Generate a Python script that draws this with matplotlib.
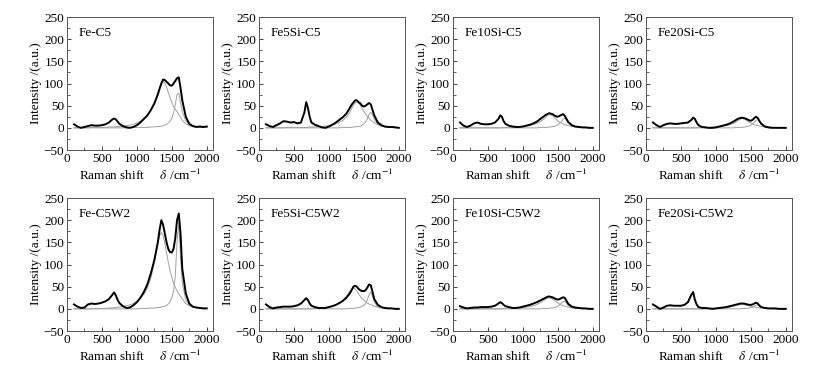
import matplotlib
matplotlib.use('Agg')
import matplotlib.pyplot as plt
from matplotlib.ticker import MultipleLocator

plt.rcParams['font.family'] = ['Liberation Serif', 'DejaVu Serif']
plt.rcParams['mathtext.fontset'] = 'stix'
plt.rcParams['font.size'] = 9

# Raman shift grid (cm^-1)
shift = [100, 150, 200, 250, 300, 350, 400, 450, 500, 550, 600, 650,
         675, 700, 725, 750,
         800, 850, 900, 950, 1000, 1050, 1100, 1150, 1200, 1250, 1300,
         1325, 1350, 1375, 1400, 1425, 1450, 1475, 1500, 1525, 1550, 1575, 1600, 1625,
         1650, 1700, 1750, 1800, 1850, 1900, 1950, 2000]

titles = ['Fe-C5', 'Fe5Si-C5', 'Fe10Si-C5', 'Fe20Si-C5',
          'Fe-C5W2', 'Fe5Si-C5W2', 'Fe10Si-C5W2', 'Fe20Si-C5W2']

# measured spectra, D band fit, G band fit
fe_c5 = [8, 3, 0, 2, 4, 6, 5, 5, 6, 8, 12, 19,
         21, 19, 14, 9,
         4, 1, 0, 2, 6, 12, 20, 28, 40, 55, 75,
         88, 100, 109, 108, 104, 100, 96, 95, 100, 106, 112, 114, 90,
         62, 25, 9, 4, 2, 3, 2, 3]
fe_c5_d = [0, 0, 0, 0, 0, 1, 1, 1, 1, 1, 2, 2,
           2, 3, 3, 3,
           4, 5, 6, 8, 11, 15, 21, 28, 40, 57, 80,
           91, 101, 105, 101, 92, 80, 68, 57, 48, 42, 37, 30, 24,
           17, 9, 5, 3, 2, 1, 1, 1]
fe_c5_g = [0, 0, 0, 0, 0, 0, 0, 0, 0, 0, 0, 0,
           0, 0, 0, 0,
           0, 0, 0, 1, 1, 1, 1, 1, 2, 2, 3,
           3, 4, 5, 6, 8, 11, 15, 22, 33, 52, 75, 78, 57,
           36, 16, 8, 5, 3, 2, 2, 1]

fe5si_c5 = [8, 4, 2, 6, 10, 15, 14, 12, 13, 10, 12, 35,
            58, 45, 25, 12,
            7, 4, 1, 0, 3, 7, 12, 18, 24, 32, 45,
            52, 57, 62, 62, 58, 55, 50, 48, 50, 53, 56, 53, 40,
            28, 12, 6, 3, 2, 2, 1, 0]
fe5si_c5_d = [0, 0, 0, 0, 0, 0, 1, 1, 1, 1, 1, 1,
              1, 1, 2, 2,
              2, 3, 3, 4, 5, 7, 9, 12, 17, 24, 35,
              43, 51, 56, 58, 56, 51, 44, 37, 31, 26, 21, 17, 14,
              11, 7, 4, 3, 2, 1, 1, 1]
fe5si_c5_g = [0, 0, 0, 0, 0, 0, 0, 0, 0, 0, 0, 0,
              0, 0, 0, 0,
              0, 0, 0, 0, 0, 0, 0, 0, 1, 1, 1,
              1, 2, 2, 3, 3, 4, 6, 9, 13, 20, 30, 35, 29,
              19, 8, 4, 2, 1, 1, 1, 0]

fe10si_c5 = [12, 5, 2, 5, 10, 12, 9, 8, 8, 9, 12, 20,
             28, 25, 15, 9,
             5, 3, 2, 2, 3, 5, 7, 10, 14, 20, 26,
             29, 31, 33, 32, 31, 28, 26, 25, 27, 29, 31, 27, 20,
             13, 6, 3, 2, 1, 1, 0, 0]
fe10si_c5_d = [0, 0, 0, 0, 0, 0, 0, 0, 0, 0, 0, 0,
               0, 0, 1, 1,
               1, 1, 2, 2, 3, 4, 5, 7, 10, 14, 20,
               24, 28, 30, 29, 27, 23, 20, 16, 13, 11, 9, 7, 6,
               5, 3, 2, 1, 1, 1, 0, 0]
fe10si_c5_g = [0, 0, 0, 0, 0, 0, 0, 0, 0, 0, 0, 0,
               0, 0, 0, 0,
               0, 0, 0, 0, 0, 0, 0, 0, 0, 1, 1,
               1, 1, 2, 2, 3, 3, 5, 7, 10, 14, 19, 22, 18,
               12, 5, 2, 1, 1, 0, 0, 0]

fe20si_c5 = [12, 6, 2, 6, 9, 10, 9, 9, 10, 11, 12, 18,
             23, 20, 12, 6,
             2, 1, 0, 0, 1, 3, 5, 7, 10, 14, 19,
             21, 22, 23, 22, 21, 19, 17, 16, 18, 22, 25, 22, 15,
             9, 3, 1, 0, 0, 0, 0, 0]
fe20si_c5_d = [0, 0, 0, 0, 0, 0, 0, 0, 0, 0, 0, 0,
               0, 0, 0, 1,
               1, 1, 1, 2, 2, 3, 4, 5, 7, 10, 14,
               17, 20, 21, 20, 18, 16, 13, 11, 9, 7, 6, 5, 4,
               3, 2, 1, 1, 1, 0, 0, 0]
fe20si_c5_g = [0, 0, 0, 0, 0, 0, 0, 0, 0, 0, 0, 0,
               0, 0, 0, 0,
               0, 0, 0, 0, 0, 0, 0, 0, 0, 0, 1,
               1, 1, 1, 2, 2, 3, 4, 6, 9, 13, 17, 18, 14,
               9, 4, 2, 1, 1, 0, 0, 0]

fe_c5w2 = [10, 5, 2, 3, 10, 12, 11, 12, 14, 17, 22, 32,
           37, 30, 20, 13,
           6, 2, 3, 8, 15, 25, 38, 55, 80, 110, 150,
           178, 200, 190, 170, 150, 135, 128, 127, 135, 160, 200, 215, 170,
           90, 35, 12, 5, 3, 2, 1, 1]
fe_c5w2_d = [0, 0, 0, 0, 0, 0, 1, 1, 1, 1, 2, 2,
             3, 3, 4, 4,
             5, 7, 9, 12, 17, 24, 33, 47, 70, 104, 147,
             165, 172, 165, 148, 126, 105, 86, 71, 58, 48, 41, 34, 28,
             22, 12, 7, 4, 3, 2, 2, 1]
fe_c5w2_g = [0, 0, 0, 0, 0, 0, 0, 0, 0, 0, 0, 0,
             0, 0, 0, 0,
             0, 0, 0, 0, 0, 1, 1, 1, 2, 2, 3,
             3, 4, 5, 6, 8, 11, 16, 24, 40, 75, 151, 196, 115,
             58, 20, 9, 5, 3, 2, 1, 1]

fe5si_c5w2 = [10, 4, 1, 3, 4, 5, 5, 5, 6, 8, 12, 20,
              24, 20, 12, 7,
              4, 2, 2, 2, 4, 6, 9, 13, 18, 25, 35,
              42, 50, 52, 50, 45, 42, 40, 40, 42, 48, 55, 53, 38,
              22, 9, 4, 2, 1, 1, 0, 0]
fe5si_c5w2_d = [0, 0, 0, 0, 0, 0, 0, 0, 0, 0, 0, 0,
                0, 0, 1, 1,
                1, 2, 2, 3, 5, 7, 9, 13, 19, 28, 40,
                45, 47, 45, 40, 34, 28, 23, 19, 16, 13, 11, 9, 8,
                6, 4, 2, 1, 1, 1, 0, 0]
fe5si_c5w2_g = [0, 0, 0, 0, 0, 0, 0, 0, 0, 0, 0, 0,
                0, 0, 0, 0,
                0, 0, 0, 0, 0, 0, 0, 0, 0, 0, 1,
                1, 1, 2, 2, 3, 4, 6, 8, 12, 20, 32, 38, 28,
                15, 5, 3, 2, 1, 1, 0, 0]

fe10si_c5w2 = [6, 3, 1, 2, 3, 3, 4, 4, 4, 5, 7, 12,
               15, 13, 9, 6,
               4, 2, 2, 3, 5, 7, 9, 12, 15, 19, 23,
               25, 27, 28, 27, 26, 24, 22, 21, 22, 24, 26, 25, 18,
               11, 5, 3, 2, 1, 1, 0, 0]
fe10si_c5w2_d = [0, 0, 0, 0, 0, 0, 0, 0, 0, 0, 0, 0,
                 0, 0, 1, 1,
                 1, 1, 2, 2, 3, 4, 5, 7, 10, 14, 19,
                 22, 24, 25, 24, 22, 19, 16, 13, 11, 9, 7, 6, 5,
                 4, 2, 1, 1, 1, 0, 0, 0]
fe10si_c5w2_g = [0, 0, 0, 0, 0, 0, 0, 0, 0, 0, 0, 0,
                 0, 0, 0, 0,
                 0, 0, 0, 0, 0, 0, 0, 0, 0, 0, 1,
                 1, 1, 1, 2, 2, 3, 4, 6, 9, 13, 16, 17, 13,
                 8, 3, 2, 1, 1, 0, 0, 0]

fe20si_c5w2 = [10, 5, 0, 3, 7, 8, 7, 7, 7, 9, 15, 32,
               38, 20, 10, 4,
               2, 2, 1, 0, 1, 2, 3, 4, 6, 8, 10,
               11, 12, 12, 12, 11, 10, 9, 9, 10, 12, 14, 12, 7,
               4, 2, 1, 1, 1, 0, 0, 0]
fe20si_c5w2_d = [0, 0, 0, 0, 0, 0, 0, 0, 0, 0, 0, 0,
                 0, 0, 0, 0,
                 0, 0, 1, 1, 1, 1, 2, 3, 4, 6, 8,
                 9, 10, 11, 10, 9, 8, 7, 6, 5, 4, 3, 3, 2,
                 2, 1, 1, 0, 0, 0, 0, 0]
fe20si_c5w2_g = [0, 0, 0, 0, 0, 0, 0, 0, 0, 0, 0, 0,
                 0, 0, 0, 0,
                 0, 0, 0, 0, 0, 0, 0, 0, 0, 0, 0,
                 0, 0, 1, 1, 1, 1, 2, 3, 4, 6, 8, 9, 7,
                 4, 2, 1, 1, 0, 0, 0, 0]

panels = [
    (fe_c5, fe_c5_d, fe_c5_g),
    (fe5si_c5, fe5si_c5_d, fe5si_c5_g),
    (fe10si_c5, fe10si_c5_d, fe10si_c5_g),
    (fe20si_c5, fe20si_c5_d, fe20si_c5_g),
    (fe_c5w2, fe_c5w2_d, fe_c5w2_g),
    (fe5si_c5w2, fe5si_c5w2_d, fe5si_c5w2_g),
    (fe10si_c5w2, fe10si_c5w2_d, fe10si_c5w2_g),
    (fe20si_c5w2, fe20si_c5w2_d, fe20si_c5w2_g),
]

fig = plt.figure(figsize=(8.14, 3.79), dpi=100)

lefts = [0.0823, 0.3182, 0.5565, 0.7936]
bottoms = [0.6042, 0.1266]
w, h = 0.1794, 0.3509

for i, (spec, dband, gband) in enumerate(panels):
    ax = fig.add_axes([lefts[i % 4], bottoms[i // 4], w, h])
    ax.plot(shift, dband, color='#a0a0a0', lw=0.7)
    ax.plot(shift, gband, color='#a0a0a0', lw=0.7)
    ax.plot(shift, spec, color='black', lw=1.4)

    ax.set_xlim(0, 2090)
    ax.set_ylim(-50, 250)
    ax.xaxis.set_major_locator(MultipleLocator(500))
    ax.xaxis.set_minor_locator(MultipleLocator(250))
    ax.yaxis.set_major_locator(MultipleLocator(50))
    ax.yaxis.set_minor_locator(MultipleLocator(25))
    ax.tick_params(which='both', direction='in', top=False, right=False,
                   labelsize=9.5, pad=2, color='#444444')
    ax.tick_params(which='major', length=3, width=0.7)
    ax.tick_params(which='minor', length=2, width=0.6)
    for sp in ax.spines.values():
        sp.set_color('#555555')
        sp.set_linewidth(0.7)

    ax.text(0.08, 0.88, titles[i], transform=ax.transAxes, fontsize=9.5,
            ha='left', va='center')
    ax.set_ylabel('Intensity /(a.u.)', fontsize=9.5, labelpad=1)
    ax.set_xlabel(r'Raman shift     $\delta$ /cm$^{-1}$', fontsize=9.5, labelpad=2)

fig.savefig('out.png', dpi=100)
